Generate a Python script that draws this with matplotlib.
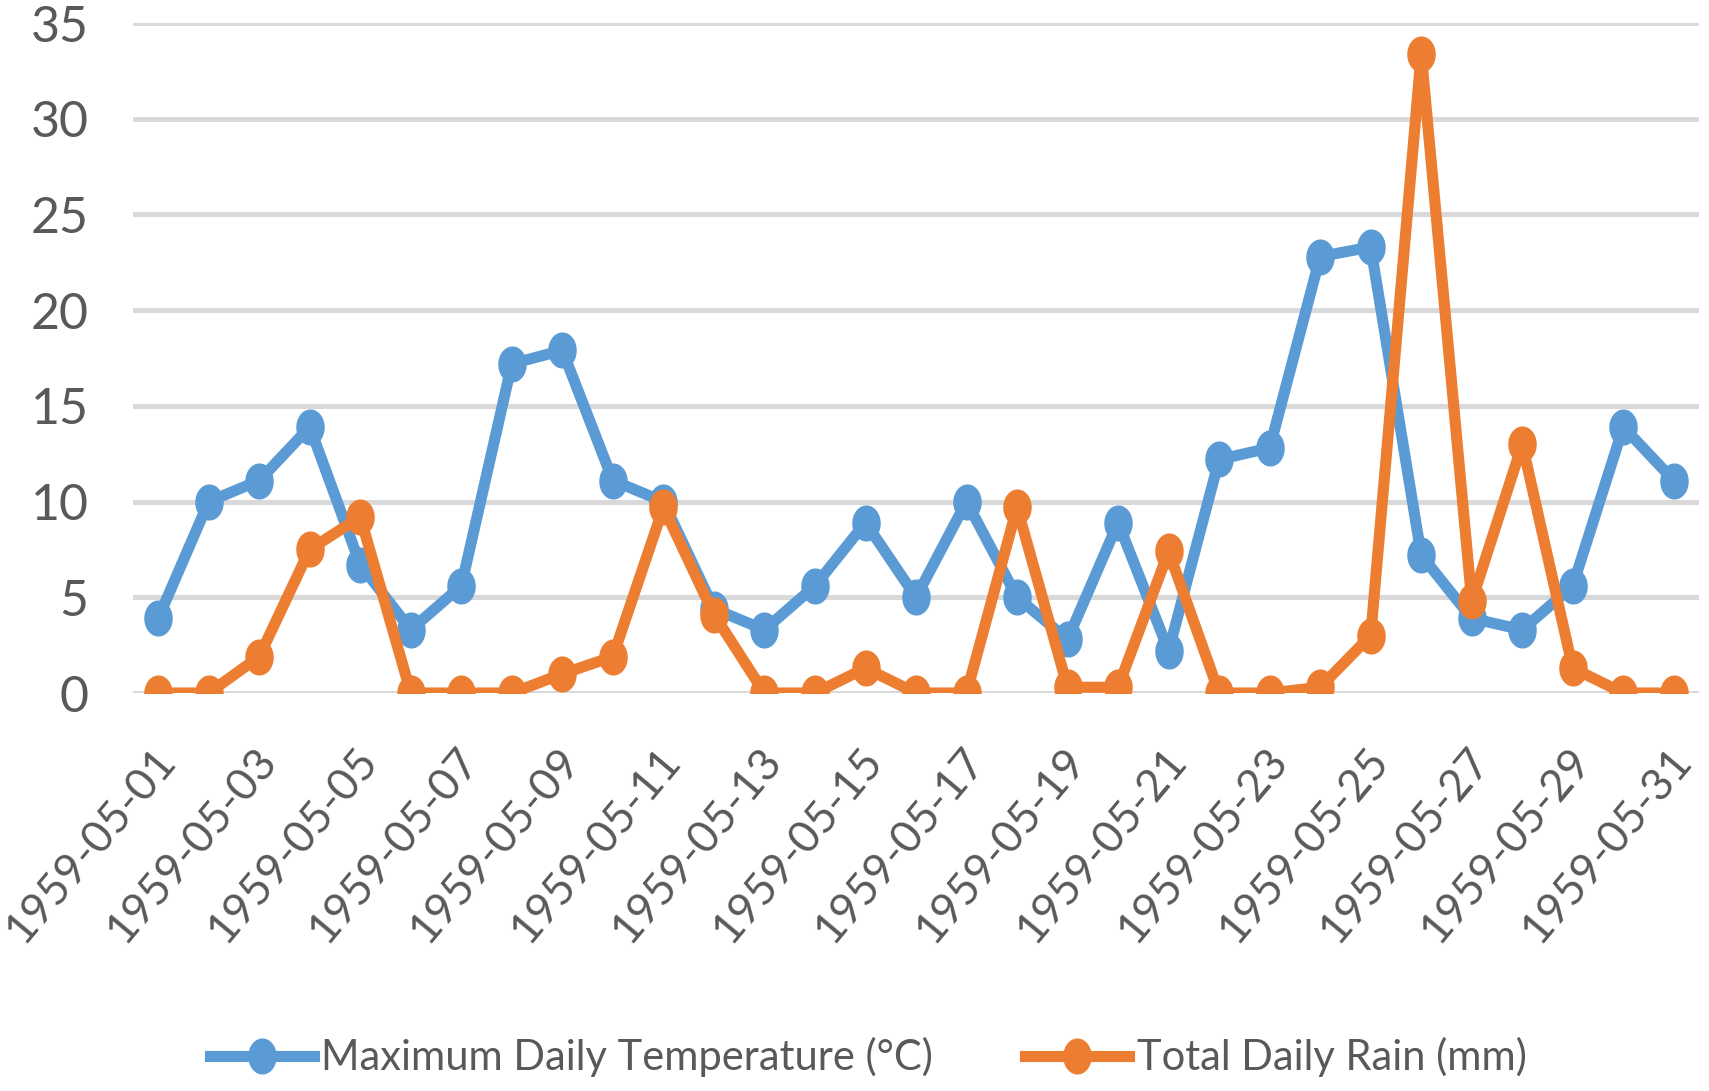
import matplotlib
matplotlib.use("Agg")
import matplotlib.pyplot as plt
import matplotlib.transforms as mtransforms
import numpy as np
from matplotlib.path import Path

days = [f"1959-05-{d:02d}" for d in range(1, 32)]

max_temp = [3.9, 10.0, 11.1, 13.9, 6.7, 3.3, 5.6, 17.2, 17.9, 11.1,
            10.0, 4.4, 3.3, 5.6, 8.9, 5.0, 10.0, 5.0, 2.8, 8.9,
            2.2, 12.2, 12.8, 22.8, 23.3, 7.2, 3.9, 3.3, 5.6, 13.9, 11.1]

total_rain = [0.0, 0.0, 1.9, 7.5, 9.2, 0.0, 0.0, 0.0, 1.0, 1.9,
              9.7, 4.1, 0.0, 0.0, 1.3, 0.0, 0.0, 9.7, 0.3, 0.3,
              7.4, 0.0, 0.0, 0.3, 3.0, 33.4, 4.8, 13.0, 1.3, 0.0, 0.0]

BLUE = "#5B9BD5"
ORANGE = "#ED7D31"
TEXT = "#595959"

plt.rcParams["font.family"] = ["Lato", "DejaVu Sans"]

# squashed ellipse marker, as in the reference
t = np.linspace(0, 2 * np.pi, 60)
ellipse = Path(np.column_stack([0.78 * np.cos(t), np.sin(t)]), closed=True)

fig = plt.figure(figsize=(17.09, 10.91), dpi=100)
ax = fig.add_axes([0.0778, 0.3648, 0.9164, 0.6141])

x = np.arange(len(days))
ax.plot(x, max_temp, color=BLUE, lw=8, marker=ellipse, ms=25,
        solid_joinstyle="round", label="Maximum Daily Temperature (°C)", zorder=3)
ax.plot(x, total_rain, color=ORANGE, lw=8, marker=ellipse, ms=25,
        solid_joinstyle="round", label="Total Daily Rain (mm)", zorder=4)

ax.set_xlim(-0.5, len(days) - 0.5)
ax.set_ylim(0, 35)
ax.set_yticks(range(0, 36, 5))
ax.set_xticks(x[::2])
ax.set_xticklabels(days[::2], rotation=50, ha="right", va="top",
                   rotation_mode="anchor")
ax.tick_params(axis="both", length=0, labelcolor=TEXT)
ax.tick_params(axis="y", labelsize=36, pad=32)
ax.tick_params(axis="x", labelsize=32, pad=34)
shift = mtransforms.ScaledTranslation(-6 / 100, 0, fig.dpi_scale_trans)
for lbl in ax.get_xticklabels():
    lbl.set_transform(lbl.get_transform() + shift)

ax.grid(axis="y", color="#D9D9D9", lw=3.6, zorder=0)
ax.set_axisbelow(True)
for s in ax.spines.values():
    s.set_visible(False)

leg = fig.legend(loc="center", bbox_to_anchor=(0.508, 0.031), ncols=2,
                 frameon=False, fontsize=30, handlelength=2.5,
                 handletextpad=0.18, columnspacing=2.2)
for txt in leg.get_texts():
    txt.set_color(TEXT)

fig.savefig("out.png", dpi=100)
